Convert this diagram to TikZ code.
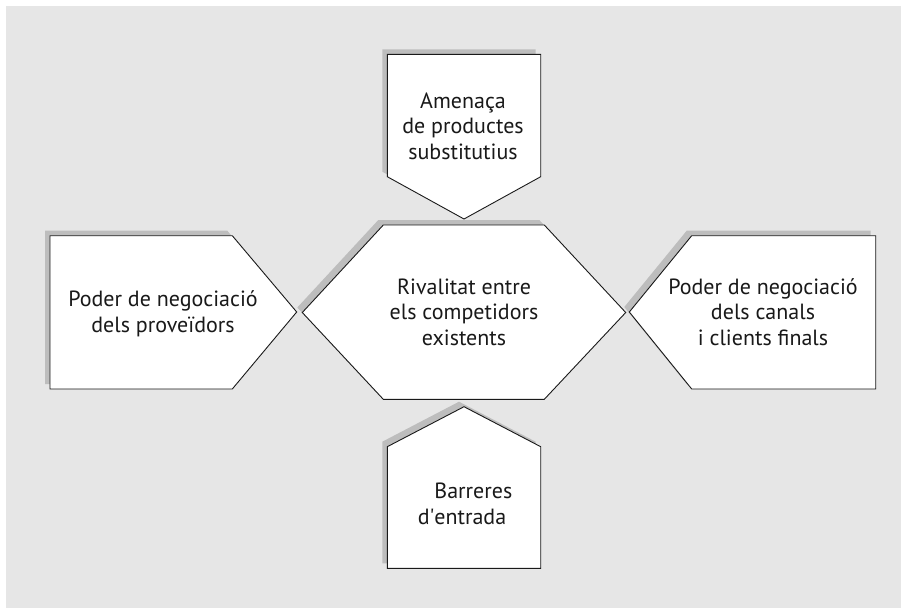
\documentclass[tikz,border=0pt]{standalone}
\usepackage{fontspec}
\setmainfont{PT Sans}
\definecolor{bggray}{HTML}{E6E6E6}
\definecolor{shadowgray}{HTML}{BDBDBD}
\tikzset{
  shapeline/.style={fill=white,draw=black!90,line width=0.9pt,line join=miter},
  shadowfill/.style={fill=shadowgray,shift={(-5,-5)}},
  lbl/.style={font=\fontsize{22}{25.5}\selectfont,align=center,inner sep=0pt,text=black!90}
}
\begin{document}
\begin{tikzpicture}[x=1pt,y=-1pt]
\useasboundingbox (0,0) rectangle (901,608);
\fill[bggray] (6,6) rectangle (901,608);
% shadows
\fill[shadowfill] (387.3,54.3) -- (540.7,54.3) -- (540.7,176.7) -- (464,219) -- (387.3,176.7) -- cycle;
\fill[shadowfill] (50,235.7) -- (232.3,235.7) -- (296.7,312) -- (232.3,389) -- (50,389) -- cycle;
\fill[shadowfill] (383.3,225) -- (544.3,225) -- (625.7,312.5) -- (544.3,399.3) -- (383.3,399.3) -- (302.3,312.5) -- cycle;
\fill[shadowfill] (629.3,312) -- (691.7,235.7) -- (875.7,235.7) -- (875.7,389) -- (691.7,389) -- cycle;
\fill[shadowfill] (464,406.7) -- (540.7,446.7) -- (540.7,568.3) -- (387.3,568.3) -- (387.3,446.7) -- cycle;
% shapes
\path[shapeline] (387.3,54.3) -- (540.7,54.3) -- (540.7,176.7) -- (464,219) -- (387.3,176.7) -- cycle;
\path[shapeline] (50,235.7) -- (232.3,235.7) -- (296.7,312) -- (232.3,389) -- (50,389) -- cycle;
\path[shapeline] (383.3,225) -- (544.3,225) -- (625.7,312.5) -- (544.3,399.3) -- (383.3,399.3) -- (302.3,312.5) -- cycle;
\path[shapeline] (629.3,312) -- (691.7,235.7) -- (875.7,235.7) -- (875.7,389) -- (691.7,389) -- cycle;
\path[shapeline] (464,406.7) -- (540.7,446.7) -- (540.7,568.3) -- (387.3,568.3) -- (387.3,446.7) -- cycle;
% labels
\node[lbl] (amen) at (463,126.2) {Amenaça\\de productes\\substitutius};
\node[lbl] (prov) at (163,313.7) {Poder de negociació\\dels proveïdors};
\node[lbl] (riv) at (464,312.2) {Rivalitat entre\\els competidors\\existents};
\node[lbl] (cli) at (763,312.2) {Poder de negociació\\dels canals\\i clients finals};
\node[lbl,align=left] (barr) at (465,503.6) {\hspace*{16.7pt}Barreres\\d\textquotesingle entrada};
\end{tikzpicture}
\end{document}
